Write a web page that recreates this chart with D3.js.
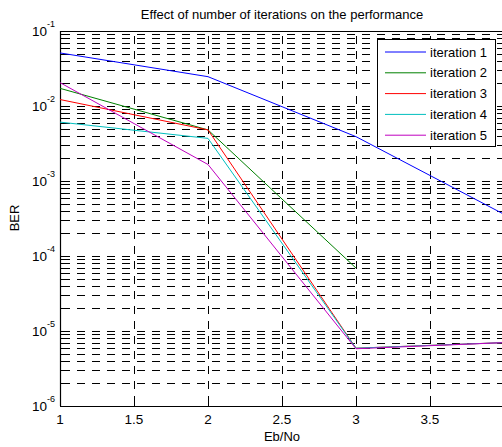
<!DOCTYPE html>
<html><head><meta charset="utf-8">
<script src="https://cdn.jsdelivr.net/npm/d3@7"></script>
<style>body{margin:0;background:#fff}svg{display:block;font-family:"Liberation Sans",Arial,sans-serif}</style>
</head><body>
<script>
const xValues = [1, 2, 3, 4];
const iter1 = [0.051, 0.0246, 0.0039, 0.00036];
const iter2 = [0.0172, 0.0048, 0.000069];
const iter3 = [0.0122, 0.0048, 0.0000059, 0.000007];
const iter4 = [0.0061, 0.0037, 0.0000059, 0.000007];
const iter5 = [0.0205, 0.00166, 0.0000058, 0.000007];
const seriesNames = ["iteration 1", "iteration 2", "iteration 3", "iteration 4", "iteration 5"];
const seriesColors = ["#0000ff", "#008000", "#ff0000", "#00bfbf", "#bf00bf"];
const xTicks = [1, 1.5, 2, 2.5, 3, 3.5];
const yExponents = [-6, -5, -4, -3, -2, -1];

const W = 502, H = 447;
const svg = d3.select("body").append("svg").attr("width", W).attr("height", H);
const x = d3.scaleLinear().domain([1, 4]).range([60, 504]);
const y = d3.scaleLog().domain([1e-6, 1e-1]).range([406, 31]);

const series = [iter1, iter2, iter3, iter4, iter5];

// grid
const gridY = [];
for (let e = -6; e < -1; e++) for (let m = 1; m <= 9; m++) if (!(e === -6 && m === 1)) gridY.push(m * Math.pow(10, e));
gridY.push(1e-1);
const g = svg.append("g");
g.selectAll("line.gy").data(gridY.filter(v => v < 0.1)).join("line")
  .attr("x1", x(1)).attr("x2", x(4))
  .attr("y1", d => Math.round(y(d)) + 0.5).attr("y2", d => Math.round(y(d)) + 0.5)
  .attr("stroke", "#000").attr("stroke-width", 1).attr("stroke-dasharray", "8,7").attr("stroke-dashoffset", -2);
g.selectAll("line.gx").data(xTicks.filter(v => v > 1)).join("line")
  .attr("x1", d => Math.round(x(d)) + 0.5).attr("x2", d => Math.round(x(d)) + 0.5)
  .attr("y1", y(1e-6)).attr("y2", y(1e-1))
  .attr("stroke", "#000").attr("stroke-width", 1).attr("stroke-dasharray", "8,7").attr("stroke-dashoffset", -2);

// minor ticks on left axis
g.selectAll("line.mt").data(gridY).join("line")
  .attr("x1", x(1)).attr("x2", x(1) + 4)
  .attr("y1", d => Math.round(y(d)) + 0.5).attr("y2", d => Math.round(y(d)) + 0.5)
  .attr("stroke", "#000");
g.selectAll("line.xt").data(xTicks).join("line")
  .attr("x1", d => Math.round(x(d)) + 0.5).attr("x2", d => Math.round(x(d)) + 0.5)
  .attr("y1", y(1e-6)).attr("y2", y(1e-6) - 5).attr("stroke", "#000");

// axes lines
svg.append("line").attr("x1", x(1)).attr("x2", x(4)).attr("y1", Math.round(y(1e-6)) + 0.5).attr("y2", Math.round(y(1e-6)) + 0.5).attr("stroke", "#000").attr("stroke-width", 1.2);
svg.append("line").attr("x1", x(1)).attr("x2", x(4)).attr("y1", Math.round(y(1e-1)) + 0.5).attr("y2", Math.round(y(1e-1)) + 0.5).attr("stroke", "#000").attr("stroke-width", 1.2);
svg.append("line").attr("x1", x(1) + 0.5).attr("x2", x(1) + 0.5).attr("y1", y(1e-6)).attr("y2", y(1e-1)).attr("stroke", "#000").attr("stroke-width", 1.2);

// series lines
const line = d3.line().x((d, i) => x(xValues[i])).y(d => y(d));
series.forEach((s, i) => {
  svg.append("path").attr("d", line(s)).attr("fill", "none").attr("stroke", seriesColors[i]).attr("stroke-width", 1);
});

// tick labels
const tl = svg.append("g").attr("font-size", 13.5).attr("fill", "#000");
tl.selectAll("text.xl").data(xTicks).join("text")
  .attr("x", d => x(d)).attr("y", y(1e-6) + 18).attr("text-anchor", "middle").text(d => d);
yExponents.forEach(e => {
  const t = tl.append("text").attr("x", 47).attr("y", y(Math.pow(10, e)) + 5).attr("text-anchor", "end");
  t.text("10");
  tl.append("text").attr("x", 47).attr("y", y(Math.pow(10, e)) - 4).attr("font-size", 9).text(String(e));
});

// labels
svg.append("text").attr("x", 282).attr("y", 19).attr("text-anchor", "middle").attr("font-size", 13).text("Effect of number of iterations on the performance");
svg.append("text").attr("x", 282).attr("y", 441).attr("text-anchor", "middle").attr("font-size", 13).text("Eb/No");
svg.append("text").attr("transform", "translate(19,218) rotate(-90)").attr("text-anchor", "middle").attr("font-size", 13).text("BER");

// legend
const lg = svg.append("g");
lg.append("rect").attr("x", 377.5).attr("y", 39.5).attr("width", 118).attr("height", 107).attr("fill", "#fff").attr("stroke", "#000").attr("stroke-width", 1);
seriesNames.forEach((n, i) => {
  const yy = 52 + i * 20.8;
  lg.append("line").attr("x1", 385).attr("x2", 426).attr("y1", yy).attr("y2", yy).attr("stroke", seriesColors[i]);
  lg.append("text").attr("x", 430).attr("y", yy + 4.5).attr("font-size", 13).text(n);
});
</script>
</body></html>
